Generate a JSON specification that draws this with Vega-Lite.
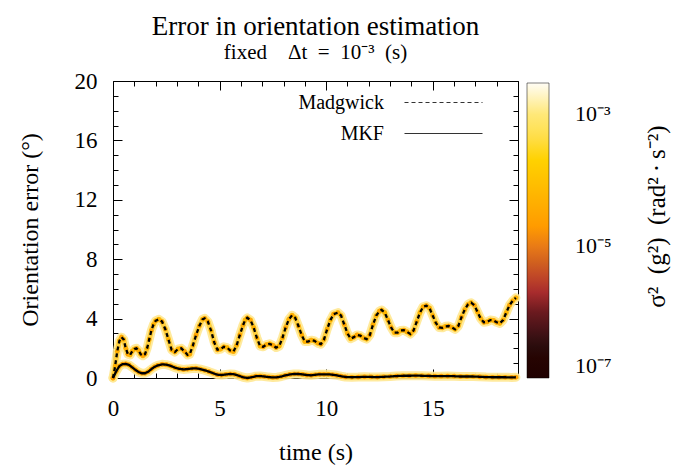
{
  "$schema": "https://vega.github.io/schema/vega-lite/v6.json",
  "autosize": {"type": "none"},
  "width": 405,
  "height": 297,
  "padding": {"left": 113, "top": 81, "right": 173, "bottom": 90},
  "background": "white",
  "config": {
    "view": {"stroke": "black", "strokeWidth": 1},
    "font": "Liberation Serif",
    "axis": {"domain": false, "grid": false, "tickColor": "black", "labelColor": "black", "titleColor": "black", "labelFont": "Liberation Serif", "titleFont": "Liberation Serif", "titleFontWeight": "normal", "zindex": 1, "labelFlush": false}
  },
  "title": {
    "text": "Error in orientation estimation",
    "subtitle": "fixed\u2003Δt\u2002=\u200210⁻³\u2002(s)",
    "font": "Liberation Serif",
    "fontSize": 27,
    "fontWeight": "normal",
    "color": "black",
    "subtitleFont": "Liberation Serif",
    "subtitleFontSize": 21,
    "subtitleColor": "black",
    "subtitlePadding": 1,
    "anchor": "middle",
    "frame": "group",
    "offset": 6
  },
  "data": {"values": [
    {"t":0.0,"e":0.0,"m":"Madgwick","v":3e-5},{"t":0.1,"e":0.8,"m":"Madgwick","v":5e-5},{"t":0.2,"e":1.8,"m":"Madgwick","v":4e-5},{"t":0.3,"e":2.5,"m":"Madgwick","v":6e-5},{"t":0.4,"e":2.75,"m":"Madgwick","v":3e-5},{"t":0.5,"e":2.6,"m":"Madgwick","v":5e-5},{"t":0.6,"e":2.0,"m":"Madgwick","v":4e-5},{"t":0.7,"e":1.6,"m":"Madgwick","v":2.5e-5},{"t":0.8,"e":1.55,"m":"Madgwick","v":5e-5},{"t":0.9,"e":1.8,"m":"Madgwick","v":4e-5},
    {"t":1.0,"e":1.95,"m":"Madgwick","v":6e-5},{"t":1.1,"e":2.0,"m":"Madgwick","v":3e-5},{"t":1.2,"e":1.85,"m":"Madgwick","v":4e-5},{"t":1.3,"e":1.6,"m":"Madgwick","v":5e-5},{"t":1.4,"e":1.5,"m":"Madgwick","v":3e-5},{"t":1.5,"e":1.6,"m":"Madgwick","v":4e-5},{"t":1.6,"e":2.0,"m":"Madgwick","v":6e-5},{"t":1.7,"e":2.6,"m":"Madgwick","v":4e-5},{"t":1.8,"e":3.2,"m":"Madgwick","v":3e-5},{"t":1.9,"e":3.6,"m":"Madgwick","v":5e-5},
    {"t":2.0,"e":3.85,"m":"Madgwick","v":4e-5},{"t":2.15,"e":3.95,"m":"Madgwick","v":6e-5},{"t":2.3,"e":3.8,"m":"Madgwick","v":3e-5},{"t":2.45,"e":3.3,"m":"Madgwick","v":4e-5},{"t":2.6,"e":2.6,"m":"Madgwick","v":5e-5},{"t":2.75,"e":1.9,"m":"Madgwick","v":3e-5},{"t":2.9,"e":1.75,"m":"Madgwick","v":4e-5},{"t":3.05,"e":1.95,"m":"Madgwick","v":6e-5},{"t":3.2,"e":2.0,"m":"Madgwick","v":4e-5},{"t":3.35,"e":1.8,"m":"Madgwick","v":3e-5},
    {"t":3.5,"e":1.55,"m":"Madgwick","v":5e-5},{"t":3.6,"e":1.6,"m":"Madgwick","v":4e-5},{"t":3.75,"e":2.2,"m":"Madgwick","v":6e-5},{"t":3.9,"e":2.9,"m":"Madgwick","v":3e-5},{"t":4.05,"e":3.5,"m":"Madgwick","v":4e-5},{"t":4.2,"e":3.95,"m":"Madgwick","v":5e-5},{"t":4.3,"e":4.02,"m":"Madgwick","v":3e-5},{"t":4.45,"e":3.8,"m":"Madgwick","v":4e-5},{"t":4.6,"e":3.2,"m":"Madgwick","v":6e-5},{"t":4.75,"e":2.4,"m":"Madgwick","v":4e-5},
    {"t":4.9,"e":1.9,"m":"Madgwick","v":3e-5},{"t":5.05,"e":1.95,"m":"Madgwick","v":5e-5},{"t":5.2,"e":2.1,"m":"Madgwick","v":4e-5},{"t":5.35,"e":2.05,"m":"Madgwick","v":6e-5},{"t":5.5,"e":1.85,"m":"Madgwick","v":3e-5},{"t":5.65,"e":1.78,"m":"Madgwick","v":4e-5},{"t":5.8,"e":2.2,"m":"Madgwick","v":5e-5},{"t":5.95,"e":2.9,"m":"Madgwick","v":3e-5},{"t":6.1,"e":3.55,"m":"Madgwick","v":4e-5},{"t":6.2,"e":3.9,"m":"Madgwick","v":6e-5},
    {"t":6.3,"e":4.05,"m":"Madgwick","v":4e-5},{"t":6.45,"e":3.9,"m":"Madgwick","v":3e-5},{"t":6.6,"e":3.4,"m":"Madgwick","v":5e-5},{"t":6.75,"e":2.7,"m":"Madgwick","v":4e-5},{"t":6.9,"e":2.15,"m":"Madgwick","v":6e-5},{"t":7.05,"e":2.1,"m":"Madgwick","v":3e-5},{"t":7.2,"e":2.25,"m":"Madgwick","v":4e-5},{"t":7.35,"e":2.3,"m":"Madgwick","v":5e-5},{"t":7.5,"e":2.2,"m":"Madgwick","v":3e-5},{"t":7.65,"e":2.05,"m":"Madgwick","v":4e-5},
    {"t":7.8,"e":2.15,"m":"Madgwick","v":6e-5},{"t":7.95,"e":2.7,"m":"Madgwick","v":4e-5},{"t":8.1,"e":3.4,"m":"Madgwick","v":3e-5},{"t":8.25,"e":3.95,"m":"Madgwick","v":5e-5},{"t":8.4,"e":4.22,"m":"Madgwick","v":4e-5},{"t":8.55,"e":4.05,"m":"Madgwick","v":6e-5},{"t":8.7,"e":3.5,"m":"Madgwick","v":3e-5},{"t":8.85,"e":2.9,"m":"Madgwick","v":4e-5},{"t":9.0,"e":2.45,"m":"Madgwick","v":5e-5},{"t":9.15,"e":2.45,"m":"Madgwick","v":3e-5},
    {"t":9.3,"e":2.55,"m":"Madgwick","v":4e-5},{"t":9.45,"e":2.5,"m":"Madgwick","v":6e-5},{"t":9.6,"e":2.35,"m":"Madgwick","v":4e-5},{"t":9.75,"e":2.28,"m":"Madgwick","v":3e-5},{"t":9.9,"e":2.6,"m":"Madgwick","v":5e-5},{"t":10.05,"e":3.3,"m":"Madgwick","v":4e-5},{"t":10.2,"e":3.9,"m":"Madgwick","v":6e-5},{"t":10.35,"e":4.3,"m":"Madgwick","v":3e-5},{"t":10.55,"e":4.4,"m":"Madgwick","v":4e-5},{"t":10.7,"e":4.2,"m":"Madgwick","v":5e-5},
    {"t":10.85,"e":3.6,"m":"Madgwick","v":3e-5},{"t":11.0,"e":3.0,"m":"Madgwick","v":4e-5},{"t":11.15,"e":2.65,"m":"Madgwick","v":6e-5},{"t":11.3,"e":2.75,"m":"Madgwick","v":4e-5},{"t":11.45,"e":2.9,"m":"Madgwick","v":3e-5},{"t":11.6,"e":2.85,"m":"Madgwick","v":5e-5},{"t":11.75,"e":2.7,"m":"Madgwick","v":4e-5},{"t":11.9,"e":2.62,"m":"Madgwick","v":6e-5},{"t":12.05,"e":2.9,"m":"Madgwick","v":3e-5},{"t":12.2,"e":3.6,"m":"Madgwick","v":4e-5},
    {"t":12.35,"e":4.2,"m":"Madgwick","v":5e-5},{"t":12.5,"e":4.5,"m":"Madgwick","v":3e-5},{"t":12.6,"e":4.58,"m":"Madgwick","v":4e-5},{"t":12.75,"e":4.4,"m":"Madgwick","v":6e-5},{"t":12.9,"e":3.9,"m":"Madgwick","v":4e-5},{"t":13.05,"e":3.4,"m":"Madgwick","v":3e-5},{"t":13.2,"e":3.05,"m":"Madgwick","v":5e-5},{"t":13.35,"e":3.05,"m":"Madgwick","v":4e-5},{"t":13.5,"e":3.2,"m":"Madgwick","v":6e-5},{"t":13.65,"e":3.22,"m":"Madgwick","v":3e-5},
    {"t":13.8,"e":3.1,"m":"Madgwick","v":4e-5},{"t":13.95,"e":2.96,"m":"Madgwick","v":5e-5},{"t":14.1,"e":3.2,"m":"Madgwick","v":3e-5},{"t":14.25,"e":3.8,"m":"Madgwick","v":4e-5},{"t":14.4,"e":4.4,"m":"Madgwick","v":6e-5},{"t":14.55,"e":4.8,"m":"Madgwick","v":4e-5},{"t":14.7,"e":4.87,"m":"Madgwick","v":3e-5},{"t":14.85,"e":4.7,"m":"Madgwick","v":5e-5},{"t":15.0,"e":4.2,"m":"Madgwick","v":4e-5},{"t":15.15,"e":3.7,"m":"Madgwick","v":6e-5},
    {"t":15.3,"e":3.4,"m":"Madgwick","v":3e-5},{"t":15.45,"e":3.38,"m":"Madgwick","v":4e-5},{"t":15.6,"e":3.48,"m":"Madgwick","v":5e-5},{"t":15.75,"e":3.5,"m":"Madgwick","v":3e-5},{"t":15.9,"e":3.4,"m":"Madgwick","v":4e-5},{"t":16.05,"e":3.28,"m":"Madgwick","v":6e-5},{"t":16.2,"e":3.5,"m":"Madgwick","v":4e-5},{"t":16.35,"e":4.1,"m":"Madgwick","v":3e-5},{"t":16.5,"e":4.6,"m":"Madgwick","v":5e-5},{"t":16.65,"e":4.95,"m":"Madgwick","v":4e-5},
    {"t":16.8,"e":5.07,"m":"Madgwick","v":6e-5},{"t":16.95,"e":4.9,"m":"Madgwick","v":3e-5},{"t":17.1,"e":4.45,"m":"Madgwick","v":4e-5},{"t":17.25,"e":4.0,"m":"Madgwick","v":5e-5},{"t":17.4,"e":3.75,"m":"Madgwick","v":3e-5},{"t":17.55,"e":3.78,"m":"Madgwick","v":4e-5},{"t":17.7,"e":3.9,"m":"Madgwick","v":6e-5},{"t":17.85,"e":3.88,"m":"Madgwick","v":4e-5},{"t":18.0,"e":3.75,"m":"Madgwick","v":3e-5},{"t":18.15,"e":3.68,"m":"Madgwick","v":5e-5},
    {"t":18.3,"e":3.9,"m":"Madgwick","v":4e-5},{"t":18.45,"e":4.4,"m":"Madgwick","v":6e-5},{"t":18.6,"e":4.9,"m":"Madgwick","v":3e-5},{"t":18.75,"e":5.2,"m":"Madgwick","v":4e-5},{"t":18.9,"e":5.4,"m":"Madgwick","v":5e-5},
    {"t":0.0,"e":0.0,"m":"MKF","v":2e-5},{"t":0.15,"e":0.45,"m":"MKF","v":3e-5},{"t":0.3,"e":0.8,"m":"MKF","v":2.5e-5},{"t":0.45,"e":0.93,"m":"MKF","v":3e-5},{"t":0.6,"e":0.95,"m":"MKF","v":2e-5},{"t":0.75,"e":0.88,"m":"MKF","v":3e-5},{"t":0.9,"e":0.72,"m":"MKF","v":2.5e-5},{"t":1.05,"e":0.55,"m":"MKF","v":2e-5},{"t":1.2,"e":0.4,"m":"MKF","v":3e-5},{"t":1.35,"e":0.32,"m":"MKF","v":2e-5},
    {"t":1.5,"e":0.32,"m":"MKF","v":2.5e-5},{"t":1.65,"e":0.42,"m":"MKF","v":3e-5},{"t":1.8,"e":0.6,"m":"MKF","v":2e-5},{"t":1.95,"e":0.75,"m":"MKF","v":3e-5},{"t":2.1,"e":0.85,"m":"MKF","v":2.5e-5},{"t":2.3,"e":0.92,"m":"MKF","v":2e-5},{"t":2.5,"e":0.9,"m":"MKF","v":3e-5},{"t":2.7,"e":0.82,"m":"MKF","v":2e-5},{"t":2.9,"e":0.7,"m":"MKF","v":2.5e-5},{"t":3.1,"e":0.62,"m":"MKF","v":3e-5},
    {"t":3.3,"e":0.58,"m":"MKF","v":2e-5},{"t":3.5,"e":0.6,"m":"MKF","v":2.5e-5},{"t":3.7,"e":0.64,"m":"MKF","v":3e-5},{"t":3.9,"e":0.65,"m":"MKF","v":2e-5},{"t":4.1,"e":0.6,"m":"MKF","v":3e-5},{"t":4.3,"e":0.52,"m":"MKF","v":2.5e-5},{"t":4.5,"e":0.43,"m":"MKF","v":2e-5},{"t":4.7,"e":0.32,"m":"MKF","v":3e-5},{"t":4.9,"e":0.22,"m":"MKF","v":2e-5},{"t":5.1,"e":0.2,"m":"MKF","v":2.5e-5},
    {"t":5.3,"e":0.24,"m":"MKF","v":3e-5},{"t":5.5,"e":0.27,"m":"MKF","v":2e-5},{"t":5.7,"e":0.25,"m":"MKF","v":3e-5},{"t":5.9,"e":0.15,"m":"MKF","v":2.5e-5},{"t":6.1,"e":0.05,"m":"MKF","v":2e-5},{"t":6.3,"e":0.0,"m":"MKF","v":3e-5},{"t":6.5,"e":0.05,"m":"MKF","v":2e-5},{"t":6.7,"e":0.12,"m":"MKF","v":2.5e-5},{"t":6.9,"e":0.13,"m":"MKF","v":3e-5},{"t":7.1,"e":0.1,"m":"MKF","v":2e-5},
    {"t":7.3,"e":0.06,"m":"MKF","v":3e-5},{"t":7.5,"e":0.04,"m":"MKF","v":2.5e-5},{"t":7.7,"e":0.05,"m":"MKF","v":2e-5},{"t":7.9,"e":0.1,"m":"MKF","v":3e-5},{"t":8.1,"e":0.18,"m":"MKF","v":2e-5},{"t":8.3,"e":0.24,"m":"MKF","v":2.5e-5},{"t":8.5,"e":0.27,"m":"MKF","v":3e-5},{"t":8.7,"e":0.27,"m":"MKF","v":2e-5},{"t":8.9,"e":0.24,"m":"MKF","v":3e-5},{"t":9.1,"e":0.2,"m":"MKF","v":2.5e-5},
    {"t":9.3,"e":0.18,"m":"MKF","v":2e-5},{"t":9.5,"e":0.22,"m":"MKF","v":3e-5},{"t":9.7,"e":0.25,"m":"MKF","v":2e-5},{"t":9.9,"e":0.25,"m":"MKF","v":2.5e-5},{"t":10.1,"e":0.25,"m":"MKF","v":3e-5},{"t":10.3,"e":0.22,"m":"MKF","v":2e-5},{"t":10.5,"e":0.18,"m":"MKF","v":3e-5},{"t":10.7,"e":0.12,"m":"MKF","v":2.5e-5},{"t":10.9,"e":0.07,"m":"MKF","v":2e-5},{"t":11.2,"e":0.05,"m":"MKF","v":3e-5},
    {"t":11.5,"e":0.06,"m":"MKF","v":2e-5},{"t":11.8,"e":0.08,"m":"MKF","v":2.5e-5},{"t":12.1,"e":0.07,"m":"MKF","v":3e-5},{"t":12.4,"e":0.06,"m":"MKF","v":2e-5},{"t":12.7,"e":0.08,"m":"MKF","v":3e-5},{"t":13.0,"e":0.1,"m":"MKF","v":2.5e-5},{"t":13.3,"e":0.13,"m":"MKF","v":2e-5},{"t":13.6,"e":0.15,"m":"MKF","v":3e-5},{"t":13.9,"e":0.15,"m":"MKF","v":2e-5},{"t":14.2,"e":0.16,"m":"MKF","v":2.5e-5},
    {"t":14.5,"e":0.15,"m":"MKF","v":3e-5},{"t":14.8,"e":0.14,"m":"MKF","v":2e-5},{"t":15.1,"e":0.12,"m":"MKF","v":3e-5},{"t":15.4,"e":0.12,"m":"MKF","v":2.5e-5},{"t":15.7,"e":0.13,"m":"MKF","v":2e-5},{"t":16.0,"e":0.12,"m":"MKF","v":3e-5},{"t":16.3,"e":0.1,"m":"MKF","v":2e-5},{"t":16.6,"e":0.1,"m":"MKF","v":2.5e-5},{"t":16.9,"e":0.1,"m":"MKF","v":3e-5},{"t":17.2,"e":0.08,"m":"MKF","v":2e-5},
    {"t":17.5,"e":0.06,"m":"MKF","v":3e-5},{"t":17.8,"e":0.05,"m":"MKF","v":2.5e-5},{"t":18.1,"e":0.05,"m":"MKF","v":2e-5},{"t":18.4,"e":0.05,"m":"MKF","v":3e-5},{"t":18.7,"e":0.04,"m":"MKF","v":2e-5},{"t":18.9,"e":0.05,"m":"MKF","v":2.5e-5}
  ]},
  "resolve": {"axis": {"x": "independent", "y": "independent"}},
  "layer": [
    {
      "mark": {"type": "line", "color": "#ffe892", "strokeWidth": 9, "strokeCap": "round", "strokeJoin": "round", "opacity": 0.9},
      "encoding": {
        "x": {"field": "t", "type": "quantitative", "scale": {"domain": [0, 19], "nice": false, "zero": false},
          "axis": {"orient": "bottom", "values": [0, 5, 10, 15], "tickSize": -9, "labelPadding": 28, "labelFontSize": 23, "title": "time (s)", "titleFontSize": 24, "titlePadding": 20}},
        "y": {"field": "e", "type": "quantitative", "scale": {"domain": [0, 20], "nice": false},
          "axis": {"orient": "left", "values": [0, 4, 8, 12, 16, 20], "tickSize": -9, "labelPadding": 25, "labelFontSize": 23, "title": "Orientation error (°)", "titleFontSize": 24, "titlePadding": 32}},
        "detail": {"field": "m", "type": "nominal"}
      }
    },
    {
      "mark": {"type": "line", "color": "#ffcc33", "strokeWidth": 5, "strokeCap": "round", "strokeJoin": "round", "opacity": 0.9},
      "encoding": {
        "x": {"field": "t", "type": "quantitative", "axis": {"orient": "top", "values": [0, 5, 10, 15], "tickSize": -9, "labels": false, "title": null}},
        "y": {"field": "e", "type": "quantitative", "axis": {"orient": "right", "values": [0, 4, 8, 12, 16, 20], "tickSize": -9, "labels": false, "title": "σ²\u2002(g²)\u2002(rad²\u2009·\u2009s⁻²)", "titleAngle": 270, "titleFontSize": 25, "titlePadding": 138, "titleBaseline": "middle", "titleAlign": "center", "titleY": 135}},
        "detail": {"field": "m", "type": "nominal"}
      }
    },
    {
      "mark": {"type": "point", "filled": true, "size": 22, "opacity": 1},
      "encoding": {
        "x": {"field": "t", "type": "quantitative", "axis": {"orient": "bottom", "values": [1,2,3,4,6,7,8,9,11,12,13,14,16,17,18,19], "tickSize": -5, "labels": false, "title": null}},
        "y": {"field": "e", "type": "quantitative", "axis": {"orient": "left", "values": [1,2,3,5,6,7,9,10,11,13,14,15,17,18,19], "tickSize": -5, "labels": false, "title": null}},
        "color": {
          "field": "v", "type": "quantitative",
          "scale": {"type": "log", "domain": [1e-7, 3.16e-7, 1e-6, 1.78e-6, 5.62e-6, 1.78e-5, 5.62e-5, 2.51e-4, 1e-3, 3e-3],
            "range": ["#000000", "#2b0d0d", "#6b1a1f", "#a3262e", "#d0601e", "#ff9800", "#ffb400", "#ffd600", "#ffe878", "#fffdf5"]},
          "legend": {
            "orient": "none", "legendX": 414, "legendY": 2, "direction": "vertical",
            "gradientLength": 295, "gradientThickness": 22, "gradientStrokeColor": "black", "gradientStrokeWidth": 0.5,
            "values": [1e-7, 1e-5, 1e-3],
            "labelExpr": "datum.value < 1e-6 ? '10⁻⁷' : datum.value < 1e-4 ? '10⁻⁵' : '10⁻³'",
            "labelFont": "Liberation Serif", "labelFontSize": 22, "labelColor": "black", "labelOffset": 26,
            "title": null
          }
        }
      }
    },
    {
      "mark": {"type": "line", "color": "black", "strokeWidth": 2.3},
      "encoding": {
        "x": {"field": "t", "type": "quantitative", "axis": {"orient": "top", "values": [1,2,3,4,6,7,8,9,11,12,13,14,16,17,18,19], "tickSize": -5, "labels": false, "title": null}},
        "y": {"field": "e", "type": "quantitative", "axis": {"orient": "right", "values": [1,2,3,5,6,7,9,10,11,13,14,15,17,18,19], "tickSize": -5, "labels": false, "title": null}},
        "strokeDash": {"field": "m", "type": "nominal",
          "scale": {"domain": ["Madgwick", "MKF"], "range": [[4, 3], [1, 0]]},
          "legend": {
            "orient": "none", "legendX": 310, "legendY": 1, "title": null,
            "symbolType": "M-2,0H2", "symbolSize": 1521, "symbolStrokeColor": "#333333", "symbolStrokeWidth": 1.2, "symbolFillColor": "transparent",
            "labelAlign": "right", "labelOffset": -80, "labelFont": "Liberation Serif", "labelFontSize": 20, "labelColor": "black",
            "rowPadding": 0
          }
        }
      }
    }
  ]
}
